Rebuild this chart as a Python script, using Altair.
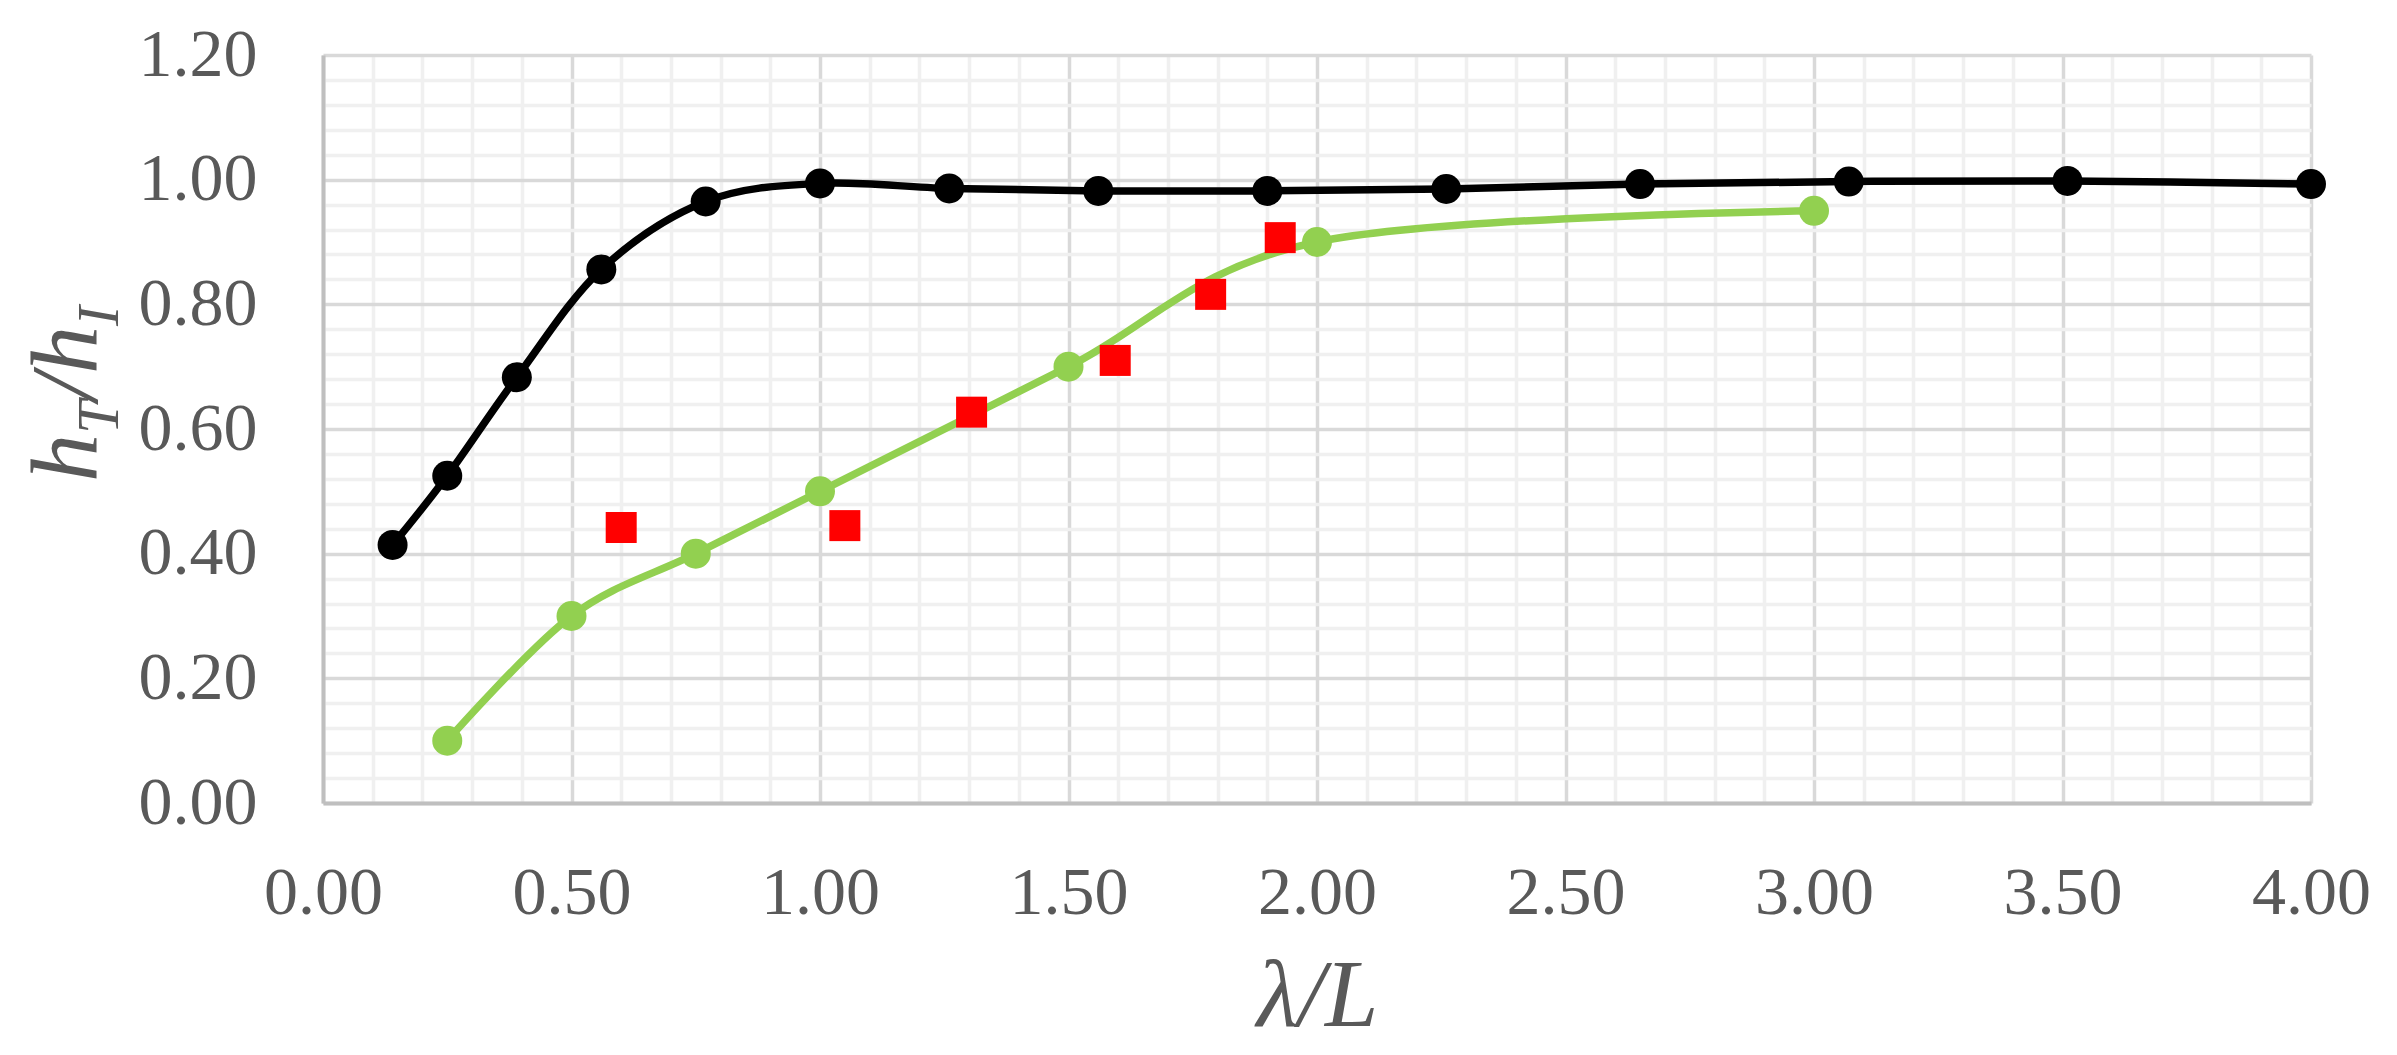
import altair as alt
import pandas as pd

# ---- data ----
black_x = [0.14, 0.25, 0.39, 0.56, 0.77, 1.00, 1.26, 1.56, 1.90, 2.26, 2.65, 3.07, 3.51, 4.00]
black_y = [0.414, 0.525, 0.683, 0.856, 0.965, 0.994, 0.986, 0.982, 0.982, 0.985, 0.993, 0.997, 0.998, 0.993]

green_x = [0.25, 0.50, 0.75, 1.00, 1.50, 2.00, 3.00]
green_y = [0.10, 0.30, 0.40, 0.50, 0.70, 0.90, 0.95]

red_x = [0.60, 1.05, 1.305, 1.594, 1.786, 1.926]
red_y = [0.442, 0.445, 0.627, 0.710, 0.816, 0.907]

x_ticks = [round(i * 0.1, 2) for i in range(41)]
y_ticks = [round(i * 0.04, 2) for i in range(31)]

FONT = "Liberation Serif"
GRAY = "#595959"

black_df = pd.DataFrame({"x": black_x, "y": black_y})
green_df = pd.DataFrame({"x": green_x, "y": green_y})
red_df = pd.DataFrame({"x": red_x, "y": red_y})

x_major = "abs(datum.value*2 - round(datum.value*2)) < 0.000001"
y_major = "abs(datum.value*5 - round(datum.value*5)) < 0.000001"

x_enc = alt.X(
    "x:Q",
    scale=alt.Scale(domain=[0, 4], nice=False, zero=False),
    axis=alt.Axis(
        values=x_ticks,
        tickCount=60,
        labelExpr=f"({x_major}) ? format(datum.value, '.2f') : ''",
        title="λ/L",
        titleFont=FONT,
        titleFontStyle="italic",
        titleFontWeight="normal",
        titleFontSize=96,
        titleColor=GRAY,
        titleBaseline="alphabetic",
        titleY=222,
        labelFont=FONT,
        labelFontSize=68,
        labelColor=GRAY,
        labelPadding=110,
        labelBaseline="alphabetic",
        labelFlush=False,
        labelOverlap=False,
        ticks=False,
        tickSize=0,
        domainColor="#bfbfbf",
        domainWidth=4,
        grid=True,
        gridColor={"condition": {"test": x_major, "value": "#d9d9d9"}, "value": "#f0f0f0"},
        gridWidth=3.5,
    ),
)

y_enc = alt.Y(
    "y:Q",
    scale=alt.Scale(domain=[0, 1.2], nice=False, zero=False),
    axis=alt.Axis(
        values=y_ticks,
        tickCount=60,
        labelExpr=f"({y_major}) ? format(datum.value, '.2f') : ''",
        title="",
        labelFont=FONT,
        labelFontSize=68,
        labelColor=GRAY,
        labelPadding=66,
        labelAlign="right",
        labelBaseline="middle",
        labelFlush=False,
        labelOverlap=False,
        ticks=False,
        tickSize=0,
        domainColor="#bfbfbf",
        domainWidth=4,
        grid=True,
        gridColor={"condition": {"test": y_major, "value": "#d9d9d9"}, "value": "#f0f0f0"},
        gridWidth=3.5,
    ),
)

black_line = alt.Chart(black_df).mark_line(
    color="black", strokeWidth=7.5, interpolate="cardinal"
).encode(x=x_enc, y=y_enc)
black_pts = alt.Chart(black_df).mark_point(
    shape="circle", filled=True, color="black", size=900, opacity=1
).encode(x="x:Q", y="y:Q")

green_line = alt.Chart(green_df).mark_line(
    color="#92D050", strokeWidth=7.5, interpolate="cardinal"
).encode(x="x:Q", y="y:Q")
green_pts = alt.Chart(green_df).mark_point(
    shape="circle", filled=True, color="#92D050", size=900, opacity=1
).encode(x="x:Q", y="y:Q")

red_pts = alt.Chart(red_df).mark_point(
    shape="square", filled=True, color="#FF0000", size=961, opacity=1
).encode(x="x:Q", y="y:Q")

# y-axis title h_T/h_I built from pieces (rotated)
one = pd.DataFrame({"k": [0]})
MAIN = 96
SUB = 60
base_main = -226
base_sub = -205
pieces = [
    ("h", MAIN, base_main, 427),
    ("T", SUB, base_sub, 379),
    ("/", MAIN, base_main, 345.6),
    ("h", MAIN, base_main, 318.9),
    ("I", SUB, base_sub, 270.9),
]
title_layers = []
for txt, fs, bx, by in pieces:
    title_layers.append(
        alt.Chart(one).mark_text(
            font=FONT, fontStyle="italic", fontSize=fs, color=GRAY,
            angle=270, align="left", baseline="alphabetic",
        ).encode(x=alt.value(bx), y=alt.value(by), text=alt.value(txt))
    )

chart = alt.layer(
    black_line, green_line, black_pts, green_pts, red_pts, *title_layers
).properties(
    width=1988,
    height=748,
    autosize=alt.AutoSizeParams(type="none"),
    padding={"left": 315, "top": 47, "right": 78, "bottom": 244},
    background="white",
).configure_view(stroke=None)

chart.save("out.html", embed_options={"renderer": "svg", "actions": False})
